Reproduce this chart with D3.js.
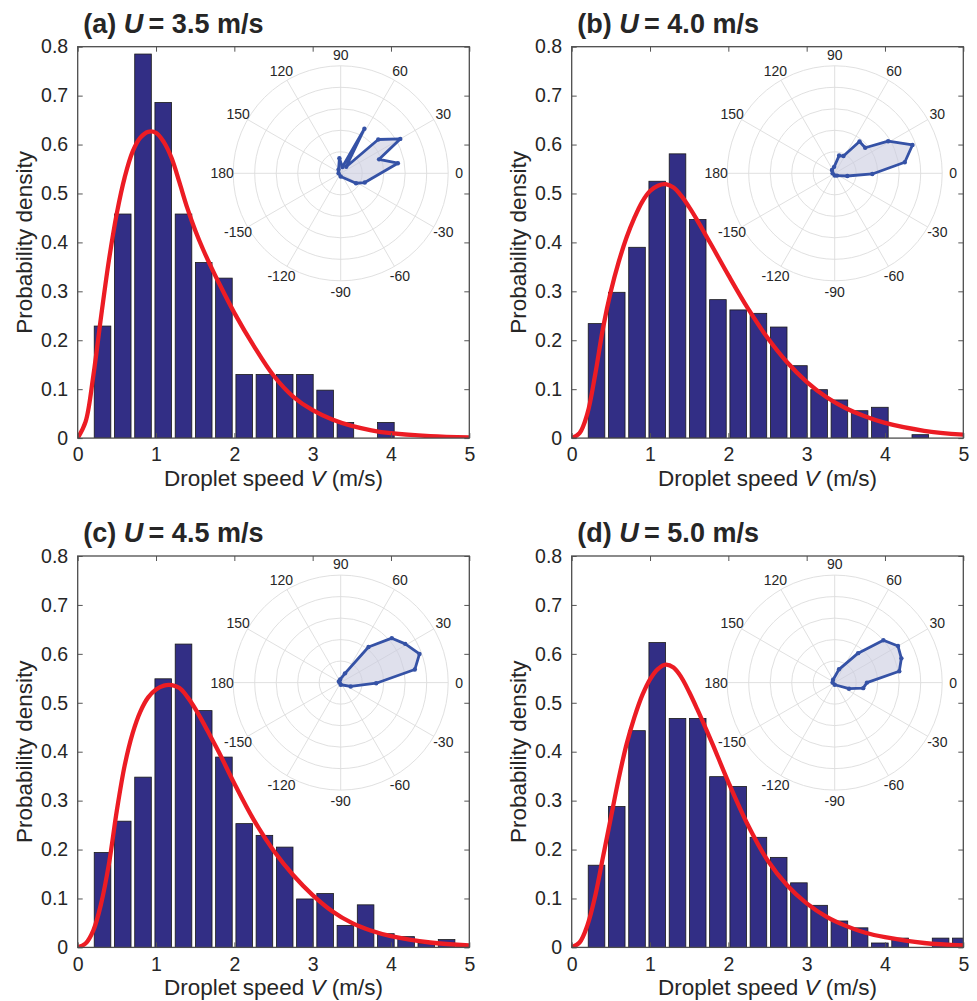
<!DOCTYPE html>
<html><head><meta charset="utf-8">
<script src="https://cdn.jsdelivr.net/npm/d3@7"></script>
<style>
body{margin:0;background:#fff}
svg{display:block}
text{font-family:"Liberation Sans",Arial,Helvetica,sans-serif;fill:#262626}
</style>
</head><body>
<svg id="chart" width="977" height="1001"></svg>
<script>
// ---------------- data ----------------
const panelLetters = ["a", "b", "c", "d"];
const windSpeeds = ["3.5", "4.0", "4.5", "5.0"];
const xTicks = [0, 1, 2, 3, 4, 5];
const yTicks = [0, 0.1, 0.2, 0.3, 0.4, 0.5, 0.6, 0.7, 0.8];
const yTickLabels = ["0", "0.1", "0.2", "0.3", "0.4", "0.5", "0.6", "0.7", "0.8"];
const polarAngleTicks = [0, 30, 60, 90, 120, 150, 180, -150, -120, -90, -60, -30];
const polarRings = [0.2, 0.4, 0.6, 0.8, 1.0];

// histogram bin centres (m/s)
const binCenters = [0.317, 0.575, 0.834, 1.092, 1.351, 1.609, 1.867, 2.126, 2.384, 2.643,
                    2.901, 3.159, 3.418, 3.676, 3.935, 4.193, 4.451, 4.710, 4.968];
const barsA = [0.229, 0.458, 0.785, 0.686, 0.458, 0.359, 0.327, 0.130, 0.130, 0.130,
               0.130, 0.098, 0.032, 0, 0.032, 0, 0, 0, 0];
const barsB = [0.234, 0.298, 0.390, 0.525, 0.581, 0.447, 0.283, 0.262, 0.255, 0.227,
               0.148, 0.099, 0.078, 0.056, 0.063, 0, 0.007, 0, 0];
const barsC = [0.194, 0.258, 0.348, 0.549, 0.620, 0.484, 0.389, 0.253, 0.229, 0.205,
               0.099, 0.110, 0.045, 0.087, 0.028, 0.022, 0.008, 0.016, 0];
const barsD = [0.168, 0.288, 0.443, 0.623, 0.468, 0.468, 0.349, 0.329, 0.225, 0.184,
               0.132, 0.086, 0.054, 0.040, 0.009, 0.019, 0, 0.019, 0.019];

// fitted PDF curves
const curveX = [0, 0.1, 0.2, 0.3, 0.4, 0.5, 0.6, 0.7, 0.8, 0.9, 1.0, 1.1, 1.2, 1.3, 1.4,
                1.5, 1.6, 1.7, 1.8, 2.0, 2.25, 2.5, 2.75, 3.0, 3.25, 3.5, 3.75, 4.0, 4.5, 5.0];
const curveA = [0, 0.033, 0.128, 0.25, 0.365, 0.46, 0.533, 0.585, 0.614, 0.626, 0.624, 0.605,
                0.572, 0.522, 0.47, 0.425, 0.386, 0.351, 0.318, 0.256, 0.188, 0.128, 0.085,
                0.057, 0.038, 0.025, 0.016, 0.010, 0.004, 0.0015];
const curveB = [0, 0.01, 0.05, 0.13, 0.225, 0.3, 0.36, 0.41, 0.45, 0.483, 0.505, 0.516,
                0.519, 0.512, 0.495, 0.472, 0.446, 0.418, 0.39, 0.333, 0.265, 0.205, 0.155,
                0.115, 0.084, 0.061, 0.044, 0.031, 0.015, 0.007];
const curveC = [0, 0.008, 0.035, 0.09, 0.172, 0.28, 0.372, 0.437, 0.482, 0.511, 0.527, 0.535,
                0.536, 0.53, 0.512, 0.488, 0.46, 0.43, 0.4, 0.335, 0.26, 0.198, 0.148,
                0.107, 0.074, 0.05, 0.034, 0.023, 0.01, 0.004];
const curveD = [0, 0.01, 0.045, 0.105, 0.185, 0.265, 0.345, 0.415, 0.47, 0.515, 0.548, 0.569,
                0.578, 0.572, 0.552, 0.522, 0.488, 0.452, 0.415, 0.338, 0.25, 0.178, 0.127,
                0.09, 0.063, 0.044, 0.03, 0.021, 0.009, 0.004];

// polar insets: direction (deg) and relative magnitude
const polarAngA = [-90, -33, -21, 10, 20, 30, 42, 50, 62, 75, 95, 120, 180];
const polarRadA = [0.03, 0.17, 0.24, 0.54, 0.38, 0.64, 0.47, 0.08, 0.47, 0.06, 0.14, 0.04, 0.02];
const polarAngB = [-90, -45, -12, -1, 9, 20, 31, 40, 52, 63, 76, 95, 130, 180];
const polarRadB = [0.02, 0.03, 0.12, 0.35, 0.66, 0.77, 0.58, 0.37, 0.375, 0.18, 0.17, 0.06, 0.04, 0.02];
const polarAngC = [-90, -21, -1, 10, 20, 31, 41, 52, 65, 100, 150, 180];
const polarRadC = [0.02, 0.10, 0.33, 0.70, 0.78, 0.70, 0.63, 0.42, 0.095, 0.03, 0.02, 0.01];
const polarAngD = [-90, -23, -11, 0, 10, 20, 30, 41, 51.5, 72, 120, 180];
const polarRadD = [0.02, 0.145, 0.27, 0.30, 0.61, 0.66, 0.68, 0.60, 0.35, 0.13, 0.03, 0.02];

// ---------------- drawing ----------------
const panels = [
  {bars: barsA, curve: curveA, pa: polarAngA, pr: polarRadA},
  {bars: barsB, curve: curveB, pa: polarAngB, pr: polarRadB},
  {bars: barsC, curve: curveC, pa: polarAngC, pr: polarRadC},
  {bars: barsD, curve: curveD, pa: polarAngD, pr: polarRadD}
];
const origins = [[77.7, 46.7], [571.7, 46.7], [77.7, 556], [571.7, 556]];
const W = 391.6, H = 391.4;
const barWidth = 0.212;
const polarCenter = [263, 126.6], polarR = 107.5, polarLabelR = 118.5;

const svg = d3.select("#chart");
const defs = svg.append("defs");

panels.forEach((p, i) => {
  const [ox, oy] = origins[i];
  const g = svg.append("g").attr("transform", `translate(${ox},${oy})`);
  const x = d3.scaleLinear().domain([0, 5]).range([0, W]);
  const y = d3.scaleLinear().domain([0, 0.8]).range([H, 0]);

  defs.append("clipPath").attr("id", "clip" + i)
    .append("rect").attr("x", 0).attr("y", -3).attr("width", W).attr("height", H + 3);

  const plot = g.append("g").attr("clip-path", `url(#clip${i})`);

  // bars
  const barData = binCenters.map((c, k) => ({c, v: p.bars[k]})).filter(d => d.v > 0);
  plot.selectAll("rect.bar").data(barData).join("rect")
    .attr("class", "bar")
    .attr("x", d => x(d.c - barWidth / 2))
    .attr("width", x(barWidth) - x(0))
    .attr("y", d => y(d.v))
    .attr("height", d => y(0) - y(d.v))
    .attr("fill", "#322e85")
    .attr("stroke", "#1a1a1a")
    .attr("stroke-width", 0.8);

  // fitted curve
  const curvePts = curveX.map((cx, k) => [cx, p.curve[k]]);
  plot.append("path").datum(curvePts)
    .attr("d", d3.line().x(d => x(d[0])).y(d => y(d[1])).curve(d3.curveCatmullRom.alpha(0.5)))
    .attr("fill", "none").attr("stroke", "#ec1c24").attr("stroke-width", 4.3)
    .attr("stroke-linejoin", "round");

  // axes (inner ticks on all four sides)
  const axB = g.append("g").attr("transform", `translate(0,${H})`)
    .call(d3.axisBottom(x).tickValues(xTicks).tickFormat(d3.format("d"))
      .tickSizeInner(-5).tickSizeOuter(0).tickPadding(9.5));
  const axL = g.append("g")
    .call(d3.axisLeft(y).tickValues(yTicks).tickFormat((d, k) => yTickLabels[k])
      .tickSizeInner(-5).tickSizeOuter(0).tickPadding(9.5));
  const axT = g.append("g")
    .call(d3.axisTop(x).tickValues(xTicks).tickFormat("").tickSizeInner(-5).tickSizeOuter(0));
  const axR = g.append("g").attr("transform", `translate(${W},0)`)
    .call(d3.axisRight(y).tickValues(yTicks).tickFormat("").tickSizeInner(-5).tickSizeOuter(0));
  [axB, axL, axT, axR].forEach(a => {
    a.select(".domain").remove();
    a.selectAll("line").attr("stroke", "#555").attr("stroke-width", 1);
    a.selectAll("text").style("font-size", "19.5px").attr("fill", "#262626")
      .style("font-family", '"Liberation Sans",Arial,Helvetica,sans-serif');
  });
  g.append("rect").attr("width", W).attr("height", H)
    .attr("fill", "none").attr("stroke", "#4d4d4d").attr("stroke-width", 1.3);

  // axis labels
  g.append("text")
    .attr("transform", `translate(-46,${H / 2}) rotate(-90)`)
    .attr("text-anchor", "middle").style("font-size", "22.5px")
    .text("Probability density");
  const xl = g.append("text").attr("x", W / 2).attr("y", H + 48)
    .attr("text-anchor", "middle").style("font-size", "22.5px");
  xl.append("tspan").text("Droplet speed ");
  xl.append("tspan").style("font-style", "italic").text("V");
  xl.append("tspan").text(" (m/s)");

  // title
  const t = g.append("text").attr("x", 5.5).attr("y", -14)
    .style("font-size", "27px").style("font-weight", "bold");
  t.append("tspan").text(`(${panelLetters[i]}) `);
  t.append("tspan").style("font-style", "italic").text("U");
  t.append("tspan").text(`\u2009= ${windSpeeds[i]} m/s`);

  // polar inset
  const pg = g.append("g").attr("transform", `translate(${polarCenter[0]},${polarCenter[1]})`);
  const r = d3.scaleLinear().domain([0, 1]).range([0, polarR]);
  const toRad = deg => deg * Math.PI / 180;
  pg.selectAll("circle.ring").data(polarRings).join("circle")
    .attr("class", "ring").attr("r", d => r(d))
    .attr("fill", "none").attr("stroke", "#dddddd").attr("stroke-width", 0.9);
  pg.selectAll("line.spoke").data(polarAngleTicks).join("line")
    .attr("class", "spoke")
    .attr("x1", 0).attr("y1", 0)
    .attr("x2", d => r(1) * Math.cos(toRad(d)))
    .attr("y2", d => -r(1) * Math.sin(toRad(d)))
    .attr("stroke", "#dddddd").attr("stroke-width", 0.9);
  pg.selectAll("text.plab").data(polarAngleTicks).join("text")
    .attr("class", "plab")
    .attr("x", d => polarLabelR * Math.cos(toRad(d)))
    .attr("y", d => -polarLabelR * Math.sin(toRad(d)))
    .attr("text-anchor", "middle").attr("dy", "0.35em")
    .style("font-size", "14px").attr("fill", "#262626")
    .text(d => d);

  const pts = p.pa.map((a, k) => ({a, v: p.pr[k]}));
  const radial = d3.lineRadial()
    .angle(d => toRad(90 - d.a)).radius(d => r(d.v)).curve(d3.curveLinearClosed);
  pg.append("path").datum(pts).attr("d", radial)
    .attr("fill", "#c9cbe0").attr("fill-opacity", 0.6)
    .attr("stroke", "#3552a6").attr("stroke-width", 2.8).attr("stroke-linejoin", "round");
  pg.selectAll("circle.pt").data(pts).join("circle")
    .attr("class", "pt")
    .attr("cx", d => r(d.v) * Math.cos(toRad(d.a)))
    .attr("cy", d => -r(d.v) * Math.sin(toRad(d.a)))
    .attr("r", 2.2).attr("fill", "#3552a6");
});
</script>
</body></html>
